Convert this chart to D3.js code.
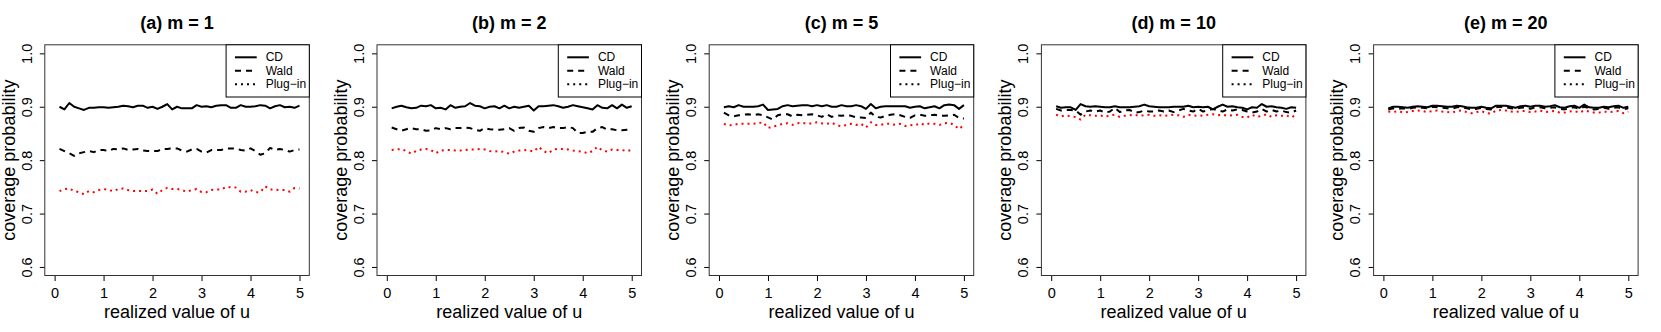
<!DOCTYPE html>
<html>
<head>
<meta charset="utf-8">
<script src="https://cdn.jsdelivr.net/npm/d3@7"></script>
<style>
  body { margin: 0; background: #fff; }
  svg { display: block; font-family: "Liberation Sans", Arial, Helvetica, sans-serif; }
</style>
</head>
<body>
<script>
// realized values of u (x axis)
var uGrid = [0.1,0.2,0.3,0.4,0.5,0.6,0.7,0.8,0.9,1.0,
             1.1,1.2,1.3,1.4,1.5,1.6,1.7,1.8,1.9,2.0,
             2.1,2.2,2.3,2.4,2.5,2.6,2.7,2.8,2.9,3.0,
             3.1,3.2,3.3,3.4,3.5,3.6,3.7,3.8,3.9,4.0,
             4.1,4.2,4.3,4.4,4.5,4.6,4.7,4.8,4.9,5.0];

var panelTitles = ["(a) m = 1", "(b) m = 2", "(c) m = 5", "(d) m = 10", "(e) m = 20"];
var seriesNames = ["CD", "Wald", "Plug\u2212in"];
var yTicks = [0.6, 0.7, 0.8, 0.9, 1.0];
var xTicks = [0, 1, 2, 3, 4, 5];

// coverage probabilities, m = 1
var cd1 = [.900,.895,.907,.900,.897,.894,.898,.898,.899,.899,.898,.899,.900,.902,.901,.899,.902,.902,.898,.900,
           .896,.900,.905,.895,.900,.897,.897,.897,.903,.900,.901,.899,.902,.903,.903,.898,.898,.903,.900,.900,
           .901,.903,.902,.897,.901,.903,.899,.900,.898,.902];
var wald1 = [.821,.817,.813,.808,.813,.815,.817,.815,.819,.819,.817,.821,.820,.822,.819,.820,.821,.818,.817,.817,
             .817,.821,.821,.822,.822,.818,.816,.820,.821,.816,.814,.819,.819,.819,.822,.822,.822,.819,.818,.822,
             .817,.810,.813,.823,.819,.821,.819,.816,.819,.820];
var plug1 = [.742,.746,.747,.742,.740,.736,.742,.740,.744,.746,.744,.742,.746,.747,.744,.742,.742,.742,.742,.745,
             .737,.744,.748,.746,.746,.744,.741,.744,.746,.740,.740,.744,.745,.745,.750,.749,.749,.741,.741,.744,
             .740,.740,.751,.745,.745,.744,.744,.741,.748,.747];

// m = 2
var cd2 = [.897,.900,.902,.899,.897,.898,.902,.901,.903,.897,.898,.895,.903,.898,.900,.901,.907,.902,.901,.897,
           .900,.901,.897,.902,.897,.900,.898,.900,.902,.893,.901,.901,.902,.903,.901,.898,.900,.903,.901,.899,
           .897,.895,.903,.898,.897,.903,.897,.904,.898,.901];
var wald2 = [.861,.858,.855,.858,.860,.858,.858,.855,.856,.860,.858,.860,.858,.860,.860,.861,.860,.857,.855,.860,
             .858,.857,.857,.858,.860,.855,.860,.861,.855,.853,.860,.862,.860,.862,.860,.860,.862,.860,.851,.851,
             .853,.853,.860,.862,.857,.858,.856,.856,.857,.858];
var plug2 = [.819,.820,.821,.817,.812,.817,.820,.821,.819,.813,.818,.819,.819,.818,.818,.819,.820,.820,.821,.820,
             .817,.816,.817,.815,.812,.816,.818,.819,.818,.816,.825,.817,.813,.820,.821,.821,.820,.818,.817,.816,
             .813,.817,.825,.818,.816,.820,.819,.819,.817,.819];

// m = 5
var cd5 = [.899,.901,.899,.903,.900,.900,.900,.901,.904,.894,.895,.896,.901,.903,.901,.902,.903,.903,.901,.903,
           .901,.903,.900,.900,.903,.901,.901,.903,.901,.896,.905,.897,.900,.901,.901,.901,.901,.901,.898,.900,
           .901,.897,.899,.901,.897,.903,.904,.903,.896,.903];
var wald5 = [.889,.884,.882,.884,.885,.886,.884,.886,.884,.880,.876,.884,.886,.886,.882,.885,.884,.885,.886,.884,
             .881,.886,.881,.884,.883,.884,.883,.880,.880,.879,.889,.881,.880,.883,.885,.886,.884,.881,.879,.884,
             .885,.883,.884,.885,.883,.883,.884,.885,.879,.878];
var plug5 = [.868,.865,.866,.868,.868,.868,.868,.869,.871,.860,.863,.865,.868,.869,.866,.869,.870,.868,.869,.871,
             .869,.868,.870,.866,.863,.866,.868,.866,.868,.861,.871,.866,.866,.868,.868,.866,.868,.864,.866,.865,
             .869,.866,.869,.868,.866,.869,.870,.866,.858,.866];

// m = 10
var cd10 = [.901,.898,.899,.899,.894,.905,.901,.900,.901,.900,.899,.899,.901,.899,.899,.899,.900,.901,.904,.901,
            .900,.899,.899,.899,.900,.900,.900,.902,.899,.900,.899,.900,.895,.900,.904,.900,.901,.899,.898,.895,
            .899,.898,.905,.900,.901,.899,.898,.896,.899,.898];
var wald10 = [.896,.893,.894,.894,.893,.885,.891,.893,.891,.893,.889,.891,.898,.890,.893,.894,.889,.890,.893,.891,
              .891,.893,.891,.893,.890,.893,.896,.893,.891,.896,.891,.893,.896,.893,.891,.895,.893,.895,.894,.891,
              .889,.891,.896,.891,.894,.891,.893,.890,.889,.893];
var plug10 = [.885,.882,.884,.882,.881,.876,.885,.884,.883,.884,.881,.884,.885,.881,.883,.884,.885,.883,.884,.885,
              .883,.884,.883,.884,.885,.884,.881,.885,.883,.884,.883,.885,.886,.884,.885,.883,.884,.885,.881,.880,
              .885,.881,.883,.886,.881,.884,.883,.884,.880,.885];

// m = 20
var cd20 = [.897,.900,.900,.899,.898,.900,.901,.900,.899,.902,.902,.901,.900,.900,.902,.901,.899,.898,.898,.900,
            .898,.897,.902,.902,.902,.900,.898,.901,.902,.900,.902,.902,.900,.901,.903,.899,.898,.901,.902,.898,
            .904,.899,.898,.898,.900,.899,.901,.902,.898,.900];
var wald20 = [.895,.897,.896,.897,.896,.898,.899,.898,.897,.900,.899,.898,.897,.896,.899,.899,.897,.895,.896,.898,
              .896,.895,.899,.900,.899,.897,.896,.898,.899,.896,.899,.899,.897,.898,.899,.896,.895,.898,.899,.896,
              .900,.897,.895,.896,.898,.896,.898,.899,.895,.897];
var plug20 = [.891,.890,.892,.889,.890,.892,.893,.892,.890,.892,.893,.891,.890,.889,.892,.893,.890,.888,.890,.892,
              .888,.887,.893,.894,.893,.891,.890,.892,.892,.890,.891,.893,.890,.891,.892,.889,.889,.891,.892,.889,
              .893,.891,.889,.889,.891,.890,.891,.892,.888,.891];

var panelSeries = [
  [cd1, wald1, plug1],
  [cd2, wald2, plug2],
  [cd5, wald5, plug5],
  [cd10, wald10, plug10],
  [cd20, wald20, plug20]
];

// line styles per series (CD solid, Wald dashed, Plug-in dotted red)
var styles = [
  {color: "#000", dash: null},
  {color: "#000", dash: "6,5"},
  {color: "#ff0000", dash: "2,4"}
];

var W = 1661, H = 332;
var panelW = W / 5;
var box = {left: 44.8, right: 309.3, top: 44.8, bottom: 275.5};

var svg = d3.select("body").append("svg")
    .attr("width", W)
    .attr("height", H);

var x = d3.scaleLinear().domain([-0.2, 5.2]).range([box.left, box.right]);
var y = d3.scaleLinear().domain([0.584, 1.016]).range([box.bottom, box.top]);

panelSeries.forEach(function(series, p) {
  var g = svg.append("g")
      .attr("transform", "translate(" + (p * panelW) + ",0)");

  // title
  g.append("text")
      .attr("x", (box.left + box.right) / 2)
      .attr("y", 29)
      .attr("text-anchor", "middle")
      .style("font-size", "18px")
      .style("font-weight", "bold")
      .text(panelTitles[p]);

  // y axis (labels rotated like R)
  var ya = g.append("g")
      .attr("transform", "translate(" + box.left + ",0)")
      .call(d3.axisLeft(y).tickValues(yTicks).tickFormat(d3.format(".1f")).tickSize(5));
  ya.select(".domain").remove();
  ya.selectAll("line").attr("stroke", "#000");
  ya.selectAll("text")
      .attr("transform", "rotate(-90)")
      .attr("x", 0)
      .attr("y", -13.3)
      .attr("dy", 0)
      .attr("text-anchor", "middle")
      .attr("fill", "#000")
      .style("font-size", "14.5px")
      .style("font-family", null);

  // x axis
  var xa = g.append("g")
      .attr("transform", "translate(0," + box.bottom + ")")
      .call(d3.axisBottom(x).tickValues(xTicks).tickFormat(d3.format("d")).tickSize(5.5));
  xa.select(".domain").remove();
  xa.selectAll("line").attr("stroke", "#000");
  xa.selectAll("text")
      .attr("y", 22)
      .attr("dy", 0)
      .attr("fill", "#000")
      .style("font-size", "14.5px")
      .style("font-family", null);

  // axis titles
  g.append("text")
      .attr("x", (box.left + box.right) / 2)
      .attr("y", 318)
      .attr("text-anchor", "middle")
      .style("font-size", "18px")
      .text("realized value of u");

  g.append("text")
      .attr("transform", "translate(14.5," + ((box.top + box.bottom) / 2) + ") rotate(-90)")
      .attr("text-anchor", "middle")
      .style("font-size", "18px")
      .text("coverage probability");

  // the lines
  var valueline = d3.line()
      .x(function(d, i) { return x(uGrid[i]); })
      .y(function(d) { return y(d); });

  series.forEach(function(vals, s) {
    g.append("path")
        .datum(vals)
        .attr("d", valueline)
        .attr("fill", "none")
        .attr("stroke", styles[s].color)
        .attr("stroke-width", 2)
        .attr("stroke-dasharray", styles[s].dash)
        .attr("stroke-linejoin", "round");
  });

  // plot box
  g.append("rect")
      .attr("x", box.left)
      .attr("y", box.top)
      .attr("width", box.right - box.left)
      .attr("height", box.bottom - box.top)
      .attr("fill", "none")
      .attr("stroke", "#333")
      .attr("stroke-width", 1);

  // legend
  var lg = g.append("g");
  lg.append("rect")
      .attr("x", 226.1)
      .attr("y", box.top)
      .attr("width", box.right - 226.1)
      .attr("height", 97 - box.top)
      .attr("fill", "#fff")
      .attr("stroke", "#000")
      .attr("stroke-width", 1);
  seriesNames.forEach(function(name, s) {
    var ly = 57.3 + s * 13.5;
    lg.append("line")
        .attr("x1", 235).attr("x2", 256.7)
        .attr("y1", ly).attr("y2", ly)
        .attr("stroke", s == 2 ? "#000" : styles[s].color)
        .attr("stroke-width", 2)
        .attr("stroke-dasharray", styles[s].dash);
    lg.append("text")
        .attr("x", 265.7)
        .attr("y", ly + 4)
        .style("font-size", "12px")
        .text(name);
  });
});
</script>
</body>
</html>
